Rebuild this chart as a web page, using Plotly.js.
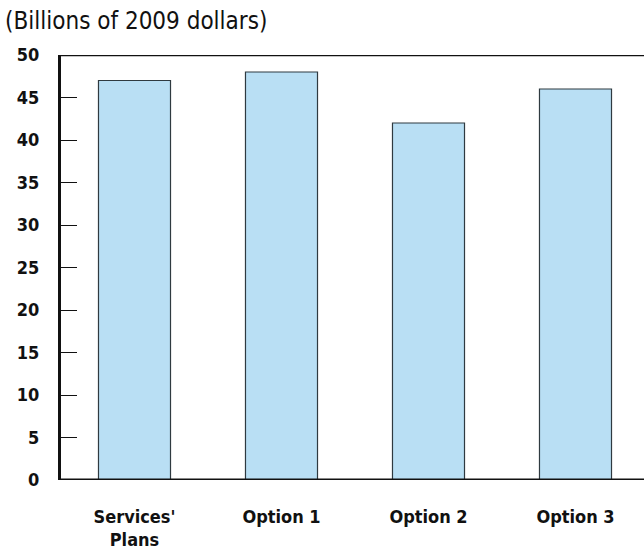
<!DOCTYPE html>
<html><head><meta charset="utf-8">
<script src="https://cdn.plot.ly/plotly-3.0.1.min.js"></script>
<style>html,body{margin:0;padding:0;background:#fff}#c{width:644px;height:554px}</style>
</head><body><div id="c"></div>
<script>
const categories = ["Services'<br>Plans", "Option 1", "Option 2", "Option 3"];
const values = [47, 48, 42, 46];
const yTicks = [0, 5, 10, 15, 20, 25, 30, 35, 40, 45, 50];
const yTickLabels = ["0", "5", "10", "15", "20", "25", "30", "35", "40", "45", "50"];
const unitsLabel = "(Billions of 2009 dollars)";

const FONT = "'DejaVu Sans Condensed', 'Liberation Sans Narrow', Roboto, sans-serif";

const trace = {
  type: 'bar',
  x: [0, 1, 2, 3],
  y: values,
  width: 0.49,
  marker: {color: '#b9dff4', line: {color: '#2f3a40', width: 1.2}},
  hoverinfo: 'none'
};

const layout = {
  width: 644, height: 554,
  margin: {l: 61, r: 0, t: 55, b: 74},
  paper_bgcolor: '#fff', plot_bgcolor: '#fff',
  showlegend: false,
  font: {family: FONT, color: '#111'},
  xaxis: {
    range: [-0.5, 3.466],
    tickvals: [0, 1, 2, 3],
    ticktext: categories,
    ticks: '',
    showgrid: false, zeroline: false,
    showline: false,
    tickfont: {family: FONT, size: 18, color: '#111', weight: 'bold'},
    ticklabelstandoff: 24
  },
  yaxis: {
    range: [0, 50],
    tickvals: yTicks,
    ticktext: yTickLabels,
    ticks: 'inside', ticklen: 16, tickwidth: 1, tickcolor: '#111',
    showgrid: false, zeroline: false,
    showline: true, linewidth: 3, linecolor: '#111',
    tickfont: {family: FONT, size: 18, color: '#111', weight: 'bold'},
    ticklabelstandoff: 15
  },
  shapes: [
    {type: 'line', xref: 'paper', yref: 'y', x0: 0, x1: 1, y0: 50, y1: 50, line: {color: '#111', width: 2.5}},
    {type: 'line', xref: 'paper', yref: 'y', x0: -0.003, x1: 1, y0: 0, y1: 0, line: {color: '#111', width: 3}}
  ],
  annotations: [
    {text: unitsLabel, xref: 'paper', yref: 'paper', x: -61/583 + 3/583, y: 1, yshift: 34,
     xanchor: 'left', yanchor: 'middle', showarrow: false,
     font: {family: FONT, size: 24, color: '#111'}}
  ]
};

Plotly.newPlot('c', [trace], layout, {displayModeBar: false, staticPlot: true});
</script>
</body></html>
